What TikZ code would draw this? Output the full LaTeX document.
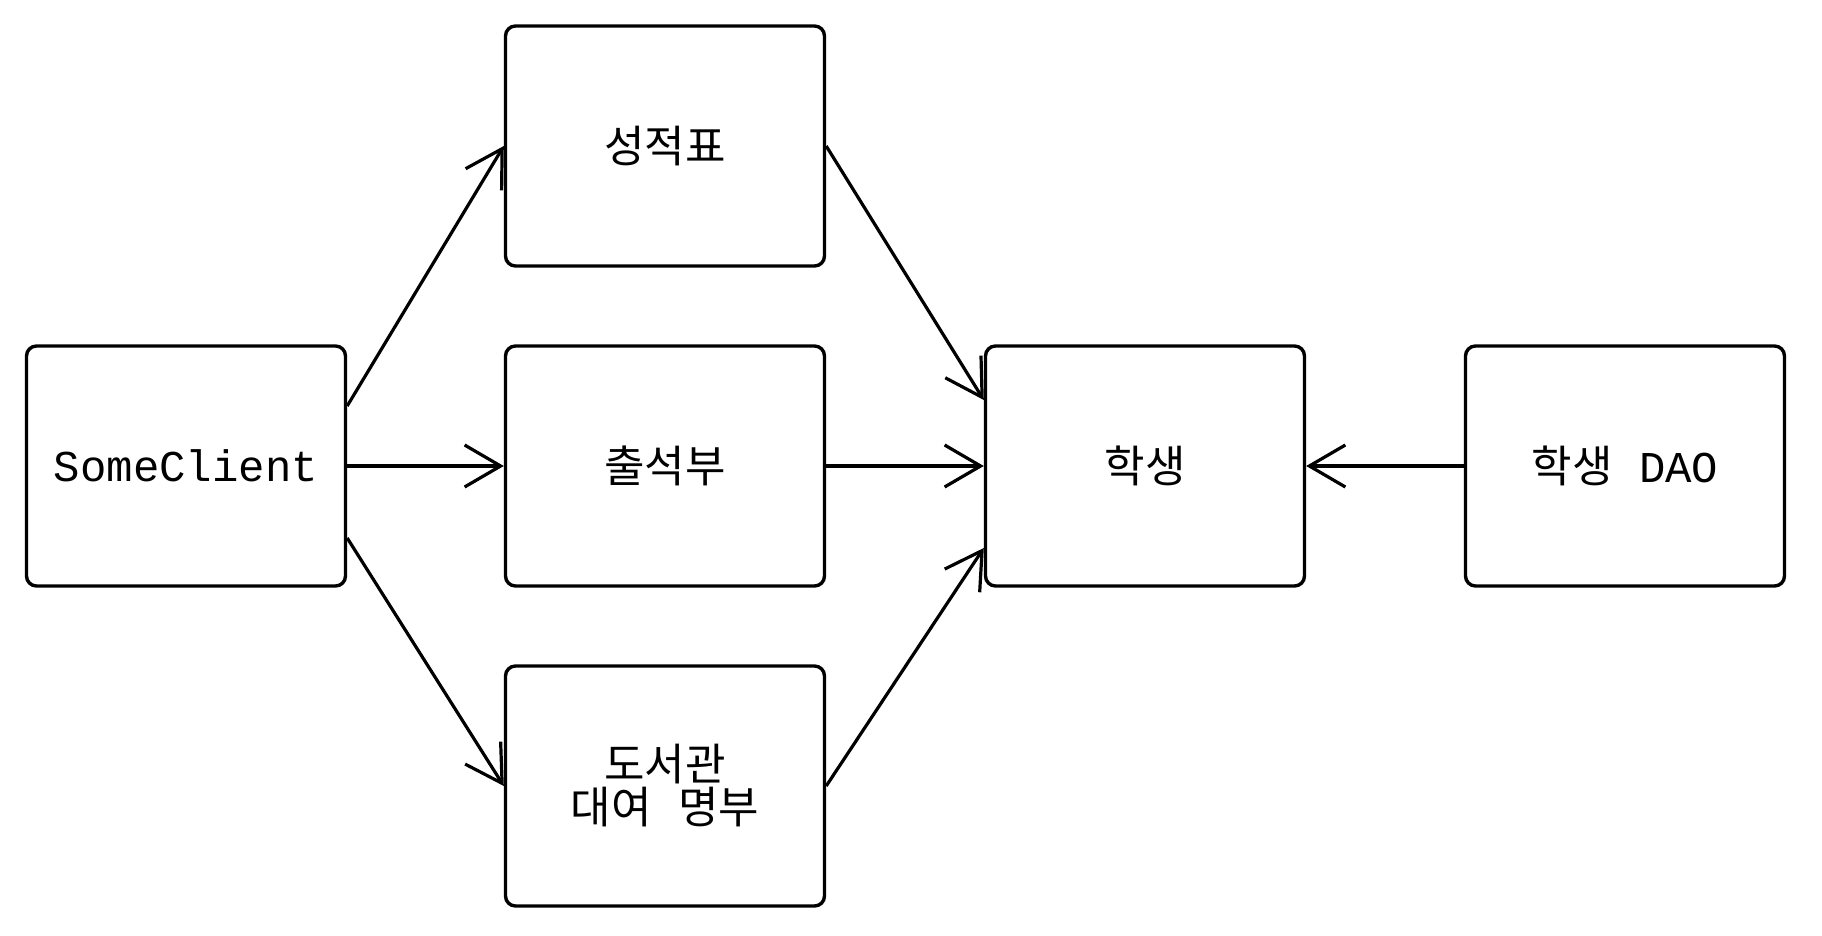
\documentclass[tikz,border=0pt]{standalone}
\usepackage{fontspec}
\setmainfont{Liberation Mono}
\newfontfamily\cjk{Noto Sans CJK KR}
\usetikzlibrary{arrows.meta}
\tikzset{
  box/.style={draw, line width=1.7pt, rounded corners=5pt, minimum width=159.5pt, minimum height=120pt, align=center, font=\fontsize{22}{22.5}\selectfont, inner sep=0pt},
  conn/.style={line width=1.6pt, -{Straight Barb[length=18pt,width=21pt]}}
}
\begin{document}
\begin{tikzpicture}[x=0.5pt,y=-0.5pt]
\useasboundingbox (0,0) rectangle (1822,936);
\node[box] (sc) at (186,466) {SomeClient};
\node[box] (grade) at (665,146) {\cjk 성적표};
\node[box] (attend) at (665,466) {\cjk 출석부};
\node[box] (lib) at (665,786) {{\cjk 도서관}\\[-1pt]{\cjk 대여} {\cjk 명부}};
\node[box] (stu) at (1145,466) {\cjk 학생};
\node[box] (dao) at (1625,466) {{\cjk 학생} DAO};
\draw[conn] ([yshift=30pt]sc.east) -- (grade.west);
\draw[conn] (sc.east) -- (attend.west);
\draw[conn] ([yshift=-36pt]sc.east) -- (lib.west);
\draw[conn] (grade.east) -- ([yshift=33pt]stu.west);
\draw[conn] (attend.east) -- (stu.west);
\draw[conn] (lib.east) -- ([yshift=-41pt]stu.west);
\draw[conn] (dao.west) -- (stu.east);
\end{tikzpicture}
\end{document}
